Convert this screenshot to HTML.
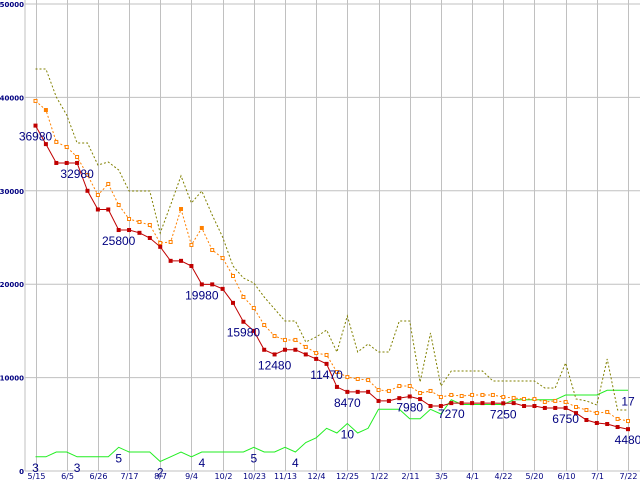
<!DOCTYPE html>
<html><head><meta charset="utf-8"><style>
html,body{margin:0;padding:0;background:#fff;}
svg{display:block;}
</style></head><body>
<svg id="chart" width="640" height="480" viewBox="0 0 640 480" xmlns="http://www.w3.org/2000/svg"></svg>
<script>
const xLabels=["5/15","6/5","6/26","7/17","8/7","9/4","10/2","10/23","11/13","12/4","12/25","1/22","2/11","3/5","4/1","4/22","5/20","6/10","7/1","7/22"];
const yTicks=[0,10000,20000,30000,40000,50000];
const minPrice=[36980,35000,32980,32980,32980,30000,28000,28000,25800,25800,25500,24950,24000,22500,22500,21950,19980,19980,19500,18000,15980,15000,12980,12480,12980,12980,12480,12000,11470,9000,8470,8470,8470,7500,7500,7800,7980,7700,6960,6960,7270,7270,7270,7270,7270,7250,7270,6960,6960,6750,6750,6750,6200,5460,5140,5030,4710,4480];
const avgPrice=[39620,38650,35230,34690,33620,31690,29550,30730,28480,26980,26660,26340,24410,24520,28050,24200,26020,23660,22800,20880,18630,17450,15630,14450,14030,14030,13280,12630,12420,10600,10060,9850,9740,8670,8570,9100,9100,8350,8570,7920,8140,8030,8140,8140,8140,7920,7820,7710,7710,7390,7500,7390,6850,6530,6210,6320,5570,5350];
const avgFilled=[1,14,16];
const maxPrice=[43040,43040,40040,38120,35120,35120,32760,33080,32230,29980,29980,29980,25480,28480,31590,28690,29980,27410,25050,21950,20660,20130,18630,17340,16060,16060,13810,14350,15100,12740,16600,12740,13600,12740,12740,16060,16060,9530,14780,9100,10710,10710,10710,10710,9640,9640,9640,9640,9640,8890,8890,11560,7710,7500,7070,11990,6530,6530];
const shopCount=[3,3,4,4,3,3,3,3,5,4,4,4,2,3,4,3,4,4,4,4,4,5,4,4,5,4,6,7,9,8,10,8,9,13,13,13,11,11,13,12,15,14,14,14,14,14,15,15,15,15,15,16,16,16,16,17,17,17];
const priceLabelIdx=[0,4,8,16,20,23,28,30,36,40,45,51,57];
const countLabelIdx=[0,4,8,12,16,21,25,30,57];

const NS="http://www.w3.org/2000/svg";
const svg=document.getElementById('chart');
const X0=35.5, DX=(628-35.5)/57;
function xs(i){return X0+i*DX;}
function ys(v){return 471-v*467/50000;}
function yc(c){return 471-c*4.75;}
function mk(tag,attrs,parent){const e=document.createElementNS(NS,tag);for(const k in attrs)e.setAttribute(k,attrs[k]);(parent||svg).appendChild(e);return e;}

const grid=mk('g',{});


yTicks.forEach(v=>{
  const l=mk('line',{x1:25,x2:640,y1:ys(v),y2:ys(v),stroke:'#c0c0c0','stroke-width':1},grid);
  
  
  const t=mk('text',{x:24,y:ys(v)+3,'text-anchor':'end','font-family':'DejaVu Sans, sans-serif','font-size':7,'font-weight':'bold',fill:'#000080'});
  t.textContent=v;
  
  
});
const ax=mk('line',{x1:25,x2:25,y1:0,y2:471,stroke:'#c0c0c0','stroke-width':1},grid);


xLabels.forEach((lab,k)=>{
  const x=Math.round(xs(k*3))+0.5;
  const l=mk('line',{x1:x,x2:x,y1:0,y2:471,stroke:'#c0c0c0','stroke-width':1},grid);
  
  
  const t=mk('text',{x:x,y:479,'text-anchor':'middle','font-family':'DejaVu Sans, sans-serif','font-size':8,fill:'#000080'});
  t.textContent=lab;
  
  
});

function pts(arr,f){return arr.map((v,i)=>xs(i).toFixed(1)+','+f(v).toFixed(1)).join(' ');}

const gl=mk('polyline',{points:pts(shopCount,yc),fill:'none',stroke:'#22ee22','stroke-width':1});



const ol=mk('polyline',{points:pts(maxPrice,ys),fill:'none',stroke:'#808000','stroke-width':1,'stroke-dasharray':'2,2'});



const orl=mk('polyline',{points:pts(avgPrice,ys),fill:'none',stroke:'#ff8000','stroke-width':1,'stroke-dasharray':'2,2'});


avgPrice.forEach((v,i)=>{
  const f=avgFilled.indexOf(i)>=0;
  const r=mk('rect',{x:xs(i)-1.5,y:ys(v)-1.5,width:3,height:3,fill:f?'#ff8000':'#fff',stroke:'#ff8000','stroke-width':1});
  
  
});

const rl=mk('polyline',{points:pts(minPrice,ys),fill:'none',stroke:'#c00000','stroke-width':1});


minPrice.forEach((v,i)=>{
  const r=mk('rect',{x:xs(i)-2,y:ys(v)-2,width:4,height:4,fill:'#c00000'});
  
  
});

priceLabelIdx.forEach(i=>{
  const t=mk('text',{x:xs(i),y:ys(minPrice[i])+15,'text-anchor':'middle','font-family':'Liberation Sans, sans-serif','font-size':12,fill:'#000080'});
  t.textContent=minPrice[i];
  
  
});
countLabelIdx.forEach(i=>{
  const t=mk('text',{x:xs(i),y:yc(shopCount[i])+15,'text-anchor':'middle','font-family':'Liberation Sans, sans-serif','font-size':12,fill:'#000080'});
  t.textContent=shopCount[i];
  
  
});
</script>
</body></html>
